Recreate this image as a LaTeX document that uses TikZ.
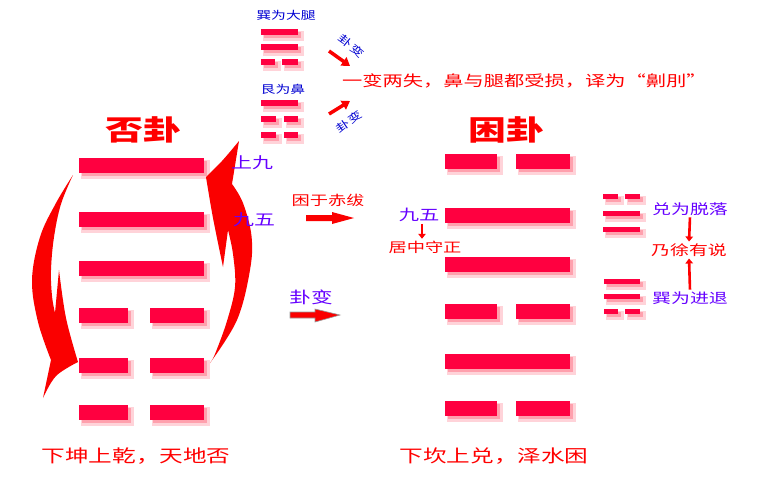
\documentclass[tikz,border=0pt]{standalone}
\usepackage{fontspec}
\setmainfont{Noto Sans CJK SC}[FakeStretch=1.35]
\usetikzlibrary{arrows.meta}
\definecolor{barc}{RGB}{255,0,64}
\definecolor{shc}{RGB}{255,110,130}
\definecolor{arc}{RGB}{250,0,0}
\definecolor{pur}{RGB}{102,0,255}
\definecolor{blu}{RGB}{0,0,210}
\definecolor{txr}{RGB}{255,0,0}
\newcommand\barseg[4]{%
  \fill[shc,opacity=0.3] (#1+2,#3+2) rectangle (#2+6,#4+6);
  \fill[shc,opacity=0.5] (#1+3,#3+3) rectangle (#2+3,#4+3);
  \fill[barc] (#1,#3) rectangle (#2,#4);}
\newcommand\solidl[4]{\barseg{#1}{#2}{#3}{#3+#4}}
\newcommand\brokenl[6]{\barseg{#1}{#2}{#5}{#5+#6}\barseg{#3}{#4}{#5}{#5+#6}}
\tikzset{
  txt/.style={inner sep=0pt, outer sep=1pt},
  fs/.style={font=\fontsize{#1}{#1}\selectfont},
  smallarrow/.style={draw=txr, line width=2.6pt, -{Triangle[length=5pt,width=7.5pt]}, shorten >=1pt, shorten <=1pt},
  blockarrow/.style={line width=3.5pt, draw=arc, -{Triangle[length=8pt,width=10pt]}},
}
\begin{document}
\begin{tikzpicture}[x=1pt,y=-1pt]
\useasboundingbox (0,0) rectangle (770,482);
\fill[white] (0,0) rectangle (770,482);

% ---------- top-left trigrams ----------
\node[txt, fs=11, text=blu] (xun1) at (286,15) {巽为大腿};
\solidl{261}{298}{29}{6}
\solidl{261}{298}{44}{6}
\brokenl{261}{275}{282}{298}{59}{6}
\node[txt, fs=11, text=blu] (gen1) at (283,89) {艮为鼻};
\solidl{261}{298}{100}{6}
\brokenl{261}{276}{284}{298}{116}{6}
\brokenl{261}{276}{284}{298}{132}{6}

\coordinate (a1s) at (329,51);
\coordinate (a1e) at (350,66);
\draw[blockarrow] (a1s) -- (a1e);
\coordinate (a2s) at (329,114);
\coordinate (a2e) at (350,101);
\draw[blockarrow] (a2s) -- (a2e);
\node[txt, fs=10.5, text=blu, rotate=-40] (gb1) at (352,46) {卦\hspace{1.5pt}变};
\node[txt, fs=10.5, text=blu, rotate=35] (gb2) at (349,122) {卦\hspace{1.5pt}变};

\node[txt, fs=15, text=txr, anchor=west] (yibian) at (341,81) {一变两失，鼻与腿都受损，译为“劓刖”};

% ---------- titles ----------
\node[txt, text=txr, font=\bfseries\fontsize{28}{28}\selectfont] (pigua) at (143,130) {否卦};
\node[txt, text=txr, font=\bfseries\fontsize{28}{28}\selectfont] (kungua) at (506,130) {困卦};

% ---------- left hexagram (Pi) ----------
\solidl{79}{204}{158}{15}
\solidl{79}{204}{212}{15}
\solidl{79}{204}{261}{15}
\brokenl{79}{128}{150}{204}{308}{15}
\brokenl{79}{128}{150}{204}{358}{15}
\brokenl{79}{128}{150}{204}{405}{15}

% left curved arrow (down)
\fill[arc] plot[smooth, tension=0.6] coordinates {(73,175) (56,203) (40,237) (32,280) (38,322) (51,360)}
  -- (43,398)
  -- plot[smooth, tension=0.6] coordinates {(43,398) (56,376) (78,362)}
  -- plot[smooth, tension=0.6] coordinates {(78,362) (66,318) (59,270)}
  -- (55,313)
  -- plot[smooth, tension=0.6] coordinates {(55,313) (52,296) (51,270) (54,237) (61,204) (73,175)}
  -- cycle;

% right curved arrow (up)
\fill[arc] plot[smooth, tension=0.6] coordinates {(210,363) (237,320) (250,270) (251.5,236) (243,203) (232,184)}
  -- (239,141)
  -- plot[smooth, tension=0.6] coordinates {(239,141) (222,161) (206,177)}
  -- plot[smooth, tension=0.6] coordinates {(206,177) (213,218) (223,267)}
  -- (228,230)
  -- plot[smooth, tension=0.6] coordinates {(228,230) (233,254) (235,287) (227,321) (215,354) (210,363)}
  -- cycle;

\node[txt, fs=15.5, text=pur] (shangjiu) at (252,163) {上九};
\node[txt, fs=15.5, text=pur] (jiuwuL) at (254,220) {九五};

% ---------- middle ----------
\node[txt, fs=13.5, text=txr] (kunyu) at (328,200) {困于赤绂};
\fill[arc] (306,215) -- (332,215) -- (332,212) -- (354,218) -- (332,224) -- (332,221) -- (306,221) -- cycle;

\node[txt, fs=16, text=pur] (guabian) at (311,297) {卦变};
\filldraw[fill=arc, draw=gray!80, line width=0.6pt] (290,312) -- (315,312) -- (315,309) -- (340,315) -- (315,322) -- (315,318) -- (290,318) -- cycle;

\node[txt, fs=15, text=pur] (jiuwuR) at (419,215) {九五};
\node[txt, fs=13.5, text=txr] (jzsz) at (425,247) {居中守正};
\draw[smallarrow] ([xshift=3pt]jiuwuR.south) -- ([xshift=-3pt]jzsz.north);

% ---------- right hexagram (Kun) ----------
\brokenl{445}{497}{516}{570}{154}{15}
\solidl{445}{570}{208}{15}
\solidl{445}{570}{257}{15}
\brokenl{445}{497}{516}{570}{304}{15}
\solidl{445}{570}{354}{15}
\brokenl{445}{497}{516}{570}{401}{15}

% ---------- right trigrams ----------
\brokenl{603}{618}{625}{640}{194}{5}
\solidl{603}{640}{211}{5}
\solidl{603}{640}{227}{5}
\solidl{604}{640}{279}{5}
\solidl{604}{640}{294}{5}
\brokenl{604}{618}{625}{640}{309}{5}

\node[txt, fs=14, text=pur] (duiwei) at (690,209) {兑为脱落};
\node[txt, fs=14, text=txr] (naixu) at (689,250) {乃徐有说};
\node[txt, fs=14, text=pur] (xunwei) at (690,298) {巽为进退};
\draw[smallarrow] (duiwei.south) -- (naixu.north);
\draw[smallarrow] (xunwei.north) -- (naixu.south);

% ---------- bottom captions ----------
\node[txt, fs=17.5, text=txr] (capL) at (136,456) {下坤上乾，天地否};
\node[txt, fs=17.5, text=txr] (capR) at (494,456) {下坎上兑，泽水困};
\end{tikzpicture}
\end{document}
